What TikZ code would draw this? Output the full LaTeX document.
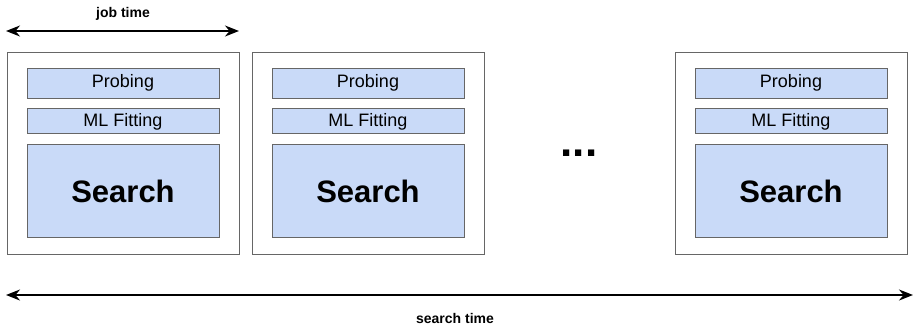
\documentclass[tikz,border=0pt]{standalone}
\usepackage{fontspec}
\setmainfont{Liberation Sans}
\usetikzlibrary{arrows.meta,positioning}
\definecolor{phasefill}{HTML}{C9DAF8}
\definecolor{edgegray}{HTML}{666666}

\begin{document}
\begin{tikzpicture}[
    x=1pt, y=1pt,
    node distance=10pt,
    job/.style={draw=edgegray, line width=0.9pt, minimum width=232pt, minimum height=202pt, inner sep=0pt},
    phase/.style={draw=edgegray, line width=0.9pt, fill=phasefill, minimum width=192pt, inner sep=0pt, font=\fontsize{18}{20}\selectfont},
    span/.style={{Stealth[length=14pt,width=11pt]}-{Stealth[length=14pt,width=11pt]}, line width=1.7pt},
    tlabel/.style={font=\bfseries\fontsize{14}{16}\selectfont}
]
\useasboundingbox (0,0) rectangle (914,-327);

% job time
\coordinate (jl) at (6,-31);
\coordinate (jr) at (239,-31);
\draw[span] (jl) -- (jr);
\node[tlabel] (jobtime) at (123,-14) {job time};

% first job
\node[job] (job1) at (123,-153) {};
\node[phase, minimum height=30pt, below=16pt of job1.north] (probe1) {Probing};
\node[phase, minimum height=25pt, below=of probe1] (fit1) {ML Fitting};
\node[phase, minimum height=93pt, below=of fit1, font=\bfseries\fontsize{31}{34}\selectfont] (search1) {Search};

% second job
\node[job] (job2) at (368,-153) {};
\node[phase, minimum height=30pt, below=16pt of job2.north] (probe2) {Probing};
\node[phase, minimum height=25pt, below=of probe2] (fit2) {ML Fitting};
\node[phase, minimum height=93pt, below=of fit2, font=\bfseries\fontsize{31}{34}\selectfont] (search2) {Search};

\node[anchor=base, font=\bfseries\fontsize{44}{48}\selectfont] (dots) at (579,-156) {...};

% last job
\node[job] (job3) at (791,-153) {};
\node[phase, minimum height=30pt, below=16pt of job3.north] (probe3) {Probing};
\node[phase, minimum height=25pt, below=of probe3] (fit3) {ML Fitting};
\node[phase, minimum height=93pt, below=of fit3, font=\bfseries\fontsize{31}{34}\selectfont] (search3) {Search};

% search time
\coordinate (sl) at (6,-295);
\coordinate (sr) at (913,-295);
\draw[span] (sl) -- (sr);
\node[tlabel] (searchtime) at (455,-318) {search time};
\end{tikzpicture}
\end{document}
